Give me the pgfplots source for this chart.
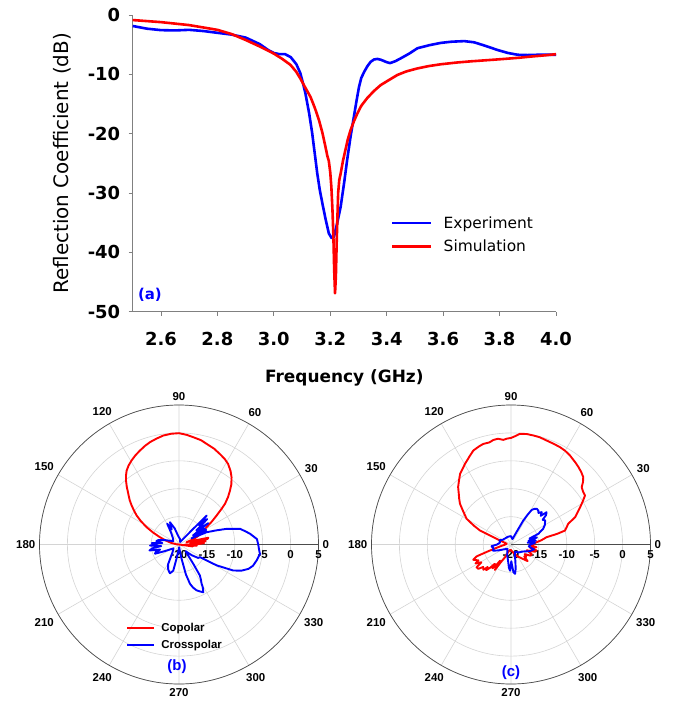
\documentclass[border=0pt]{standalone}
\usepackage{pgfplots}
\pgfplotsset{compat=1.18}
\usepackage{pgfplotstable}
\usepgfplotslibrary{polar}
\usepackage{fontspec}
\setmainfont{DejaVu Sans}
\newfontfamily\arialfont{Liberation Sans}
\newcommand\plbl{\arialfont\bfseries\fontsize{11.5}{13}\selectfont}
\definecolor{cred}{RGB}{255,0,0}
\definecolor{cblue}{RGB}{0,0,255}
\definecolor{gridgray}{RGB}{212,212,212}
\definecolor{axgray}{RGB}{128,128,128}

\pgfplotstableread{
f d
2.50 -1.85
2.55 -2.3
2.60 -2.55
2.65 -2.6
2.70 -2.5
2.75 -2.7
2.80 -3.0
2.85 -3.3
2.90 -3.8
2.95 -4.9
2.98 -5.9
3.00 -6.4
3.02 -6.6
3.04 -6.6
3.06 -7.1
3.08 -8.3
3.094 -9.8
3.105 -11.8
3.112 -13.2
3.125 -16.5
3.136 -19.9
3.145 -23.3
3.154 -26.7
3.163 -29.5
3.172 -31.7
3.183 -34.3
3.195 -36.8
3.205 -37.6
3.213 -37.4
3.225 -35.0
3.237 -32.3
3.25 -28
3.26 -24.4
3.272 -20.5
3.284 -17.1
3.293 -14.5
3.302 -12.1
3.31 -10.6
3.32 -9.6
3.332 -8.6
3.343 -7.9
3.355 -7.5
3.367 -7.4
3.38 -7.55
3.39 -7.75
3.40 -7.95
3.412 -8.1
3.43 -7.8
3.45 -7.3
3.48 -6.5
3.509 -5.6
3.55 -5.1
3.592 -4.7
3.63 -4.5
3.675 -4.4
3.71 -4.6
3.75 -5.2
3.793 -5.9
3.83 -6.4
3.864 -6.7
3.90 -6.75
3.935 -6.7
3.97 -6.7
4.00 -6.7
}\experiment

\pgfplotstableread{
f d
2.50 -0.85
2.60 -1.2
2.70 -1.7
2.80 -2.5
2.85 -3.2
2.90 -4.2
2.95 -5.3
3.00 -6.5
3.03 -7.4
3.059 -8.4
3.08 -9.6
3.094 -10.7
3.11 -12.1
3.13 -13.8
3.145 -15.6
3.16 -17.7
3.172 -19.8
3.183 -22.2
3.19 -23.8
3.195 -24.6
3.20 -26.5
3.204 -29
3.208 -33
3.211 -37
3.214 -43
3.217 -46.9
3.220 -44
3.223 -38
3.228 -30
3.232 -27.8
3.237 -26.7
3.245 -24.6
3.254 -22.7
3.262 -21
3.272 -19.4
3.284 -17.9
3.296 -16.6
3.31 -15.3
3.331 -14.0
3.355 -12.8
3.379 -11.8
3.41 -10.9
3.438 -10.1
3.47 -9.5
3.509 -9.0
3.55 -8.6
3.592 -8.3
3.65 -8.0
3.70 -7.8
3.76 -7.6
3.817 -7.4
3.87 -7.2
3.912 -7.0
3.96 -6.8
4.00 -6.6
}\simulation

\pgfplotstableread{
a d
0 -17
3 -15.5
5 -18
7 -15.2
9 -17.5
11 -14.8
13 -14.6
15 -17.5
17 -18.6
20 -17.5
22.5 -16.6
27 -15.5
32 -14.2
35 -12.8
37.6 -11.5
40 -10.0
41.5 -9.0
44 -7.8
46.6 -6.7
49 -5.7
52 -4.7
55 -3.9
58.6 -3.1
62 -2.6
65.7 -2.2
70 -1.7
74.6 -1.3
78 -0.9
82.4 -0.6
86 -0.3
90 -0.05
94 -0.1
98.2 -0.27
102 -0.6
105.8 -0.93
109 -1.3
112.5 -1.76
116 -2.2
119.4 -2.7
122.5 -3.2
125.3 -3.76
127.5 -4.4
129.6 -5.1
132 -6.0
135 -7.15
138 -8.1
140.5 -9.0
143 -9.9
145.6 -10.8
148.5 -12.0
151.8 -13.4
155 -14.8
159 -16.3
163 -17.5
168 -18.5
175 -19.5
180 -20
350 -20
352 -17.5
354 -19
356 -16.8
358 -19
360 -17
}\copolB

\pgfplotstableread{
a d
0 -5.8
4 -6.0
8.5 -7.1
11 -7.8
14.4 -8.7
16 -9.8
18.2 -11
21 -13
24 -14.6
26 -17.5
28 -14.5
31 -14.6
33 -17
36 -13.5
39 -16
42 -13.2
44 -15
46.3 -12.8
48 -16.5
50 -18
55 -19
65 -19.5
80 -19
95 -18.5
105 -17
110 -16.2
112 -15.7
116 -17
119.5 -15.7
124 -17.5
135 -18.5
150 -18.8
162 -17.5
168 -16.2
171.5 -15.9
175 -17
177 -15.1
180 -16
182 -14.8
185 -16.8
188 -15.2
191.4 -14.6
195 -16.5
198 -15.6
201 -15.4
205 -17.2
215 -18.8
230 -18.2
238 -17
241 -16
246 -15.2
250 -14.8
252.6 -14.6
255 -14.9
257.6 -15.2
260 -17.4
265 -19
272 -19.5
280 -17.5
283 -14.5
285.6 -12.7
288 -11.9
291 -11.2
294 -10.8
297 -10.4
299 -11.2
300 -11.9
302 -12.6
304 -13.3
306.5 -15.7
310 -17.5
315 -18.3
320 -17
325 -15.8
329 -15.6
331 -12.3
334.4 -9.2
337.5 -7.8
340.7 -6.8
344 -6.2
348.4 -5.8
353.4 -5.4
356 -5.6
360 -5.8
}\crossB

\pgfplotstableread{
a d
0 -16
3 -15.8
5.1 -15.4
8 -14.5
11.6 -13.5
13 -11.5
14.5 -10
17 -9.6
19.9 -9.1
23.1 -7.5
26 -6.7
28.4 -5.9
31 -5.0
33.5 -4.1
36 -4.0
39 -3.7
41 -2.9
43 -2.3
46 -1.9
48.9 -1.6
52 -1.3
56.5 -0.86
60 -0.6
63.3 -0.47
67 -0.4
71.1 -0.3
75 -0.1
78.4 -0.05
82 0
85.4 -0.1
88 -0.6
90 -0.9
92 -1.0
94.2 -1.2
97 -0.9
99.6 -1.0
102 -1.3
105.4 -1.3
108 -1.5
111.8 -1.85
115 -2.5
117 -2.9
119.7 -3.35
122 -3.8
125.8 -4.4
129 -5.2
132.6 -6.0
136 -7.0
138.5 -7.6
141.4 -8.3
145 -9.5
149.9 -10.8
153 -12.5
155.7 -13.9
158.3 -17.2
162 -18.5
170 -19.2
180 -19
190 -18
196 -16
199 -13.5
202 -12.7
206 -13.5
208 -12.8
211 -13.8
213.5 -12.6
216.6 -12.7
219 -13.6
222.4 -13.3
224 -14.2
226 -13.6
228 -14.4
230 -15.5
232 -14.6
234 -15.1
236 -16.5
237.7 -14.6
240 -16.3
245 -17.5
250 -18.6
260 -19
270 -19
285 -18.5
300 -17.5
310 -16.6
315 -15.8
318 -16.8
321 -16.5
325 -17
330 -16
335 -15.9
340 -17
343 -15.6
347 -15.3
350 -16.5
354 -15.4
357 -16.4
360 -16
}\copolC

\pgfplotstableread{
a d
0 -16.5
4 -15.7
6 -17
9 -15.5
12 -16.8
15 -15.2
18 -16.5
21.4 -14.7
24 -14.2
25.9 -13.6
30 -13
35.2 -12.5
38 -12.8
40 -11.8
42.2 -11.4
44 -12.6
46.5 -12.0
49 -12.5
51 -12.2
54.3 -12.1
57 -12.4
59.2 -12.8
61 -14
62.9 -15.2
66 -17.5
75 -19
90 -18.5
110 -18.5
130 -18.5
150 -18.3
160 -17.8
170 -18
180 -17.5
185 -16.5
192 -16.8
199 -16.6
205 -17.5
215 -18.5
230 -19
250 -18
260 -17
265 -15.8
268 -15.3
271 -17
275 -15.0
278 -14.7
281 -15.6
285 -17
290 -18
300 -18.5
315 -18
330 -17.5
340 -16.5
348 -15.8
354 -16.8
360 -16.5
}\crossC

\pgfplotsset{
  mypolar/.style={
    scale only axis, width=279bp, height=279bp,
    anchor=center,
    ymin=0, ymax=25,
    xtick={0,30,60,90,120,150,180,210,240,270,300,330},
    xticklabels={{\plbl 0},{\plbl 30},{\plbl 60},{\plbl 90},{\plbl 120},{\plbl 150},{\plbl 180},{\plbl 210},{\plbl 240},{\plbl 270},{\plbl 300},{\plbl 330}},
    ytick={0,5,10,15,20,25},
    yticklabels={{\plbl -20},{\plbl -15},{\plbl -10},{\plbl -5},{\plbl 0},{\plbl 5}},
    grid=major,
    major grid style={gridgray, line width=0.6bp},
    axis line style={black!70, line width=0.7bp},
    major tick length=0pt,
    tick style={draw=none},
    xticklabel style={font=\plbl, inner sep=4bp},
    yticklabel style={font=\plbl, anchor=north, yshift=-2.5bp},
  },
  polarline/.style={line width=1.9bp, line join=round, no marks},
}

\begin{document}
\begin{tikzpicture}
\path[use as bounding box] (0,0) rectangle (676bp,-704bp);

% ---------- (a) ----------
\begin{axis}[
  at={(132.7bp,-311.7bp)}, anchor=south west,
  scale only axis, width=423.3bp, height=296.7bp,
  xmin=2.5, xmax=4.0, ymin=-50, ymax=0,
  axis x line*=bottom, axis y line*=left,
  axis line style={axgray, line width=0.8bp},
  xtick={2.6,2.8,3.0,3.2,3.4,3.6,3.8,4.0},
  xticklabels={2.6,2.8,3.0,3.2,3.4,3.6,3.8,4.0},
  ytick={-50,-40,-30,-20,-10,0},
  yticklabels={-50,-40,-30,-20,-10,0},
  tick align=outside, major tick length=4bp,
  tick style={axgray, line width=0.8bp},
  ticklabel style={font=\bfseries\fontsize{18}{20}\selectfont},
  xticklabel style={yshift=-13bp},
  yticklabel style={xshift=-5bp},
  xlabel={Frequency (GHz)},
  ylabel={Reflection Coefficient (dB)},
  xlabel style={font=\bfseries\fontsize{17}{20}\selectfont, at={(axis description cs:0.5,-0.2235)}, anchor=center},
  ylabel style={font=\fontsize{20}{24}\selectfont, at={(axis description cs:-0.167,0.5)}, anchor=center},
  legend style={at={(axis description cs:0.603,0.335)}, anchor=north west, draw=none, fill=none,
    font=\fontsize{15.5}{18}\selectfont, row sep=6bp,
    /tikz/every odd column/.append style={column sep=9bp}},
  legend cell align=left,
  legend image code/.code={\draw[#1, line width=2.6bp] (0bp,0bp) -- (39bp,0bp);},
  clip=false,
]
\addplot[cblue, line width=2.6bp, line join=round, no marks] table[x=f, y=d] {\experiment};
\addlegendentry{Experiment}
\addplot[cred, line width=2.6bp, line join=round, no marks] table[x=f, y=d] {\simulation};
\addlegendentry{Simulation}
\node[text=cblue, font=\bfseries\fontsize{15}{18}\selectfont] at (axis cs:2.561,-47.2) {(a)};
\end{axis}

% ---------- (b) ----------
\begin{polaraxis}[
  mypolar,
  at={(179bp,-544.5bp)},
  legend style={at={(0.30,0.232)}, anchor=north west, draw=none, fill=none,
    font=\arialfont\bfseries\fontsize{11.5}{13}\selectfont, row sep=3bp,
    /tikz/every odd column/.append style={column sep=4bp}},
  legend cell align=left,
  legend image code/.code={\draw[#1, line width=2bp] (0bp,0bp) -- (27bp,0bp);},
]
\addplot[cred, polarline] table[x=a, y expr=\thisrow{d}+20] {\copolB};
\addlegendentry{Copolar}
\addplot[cblue, polarline] table[x=a, y expr=\thisrow{d}+20] {\crossB};
\addlegendentry{Crosspolar}
\end{polaraxis}
\node[text=cblue, font=\arialfont\bfseries\fontsize{15}{18}\selectfont] at (177bp,-667bp) {(b)};

% ---------- (c) ----------
\begin{polaraxis}[
  mypolar,
  at={(511bp,-544.5bp)},
]
\addplot[cred, polarline] table[x=a, y expr=\thisrow{d}+20] {\copolC};
\addplot[cblue, polarline] table[x=a, y expr=\thisrow{d}+20] {\crossC};
\end{polaraxis}
\node[text=cblue, font=\arialfont\bfseries\fontsize{15}{18}\selectfont] at (511bp,-673bp) {(c)};
\end{tikzpicture}
\end{document}
